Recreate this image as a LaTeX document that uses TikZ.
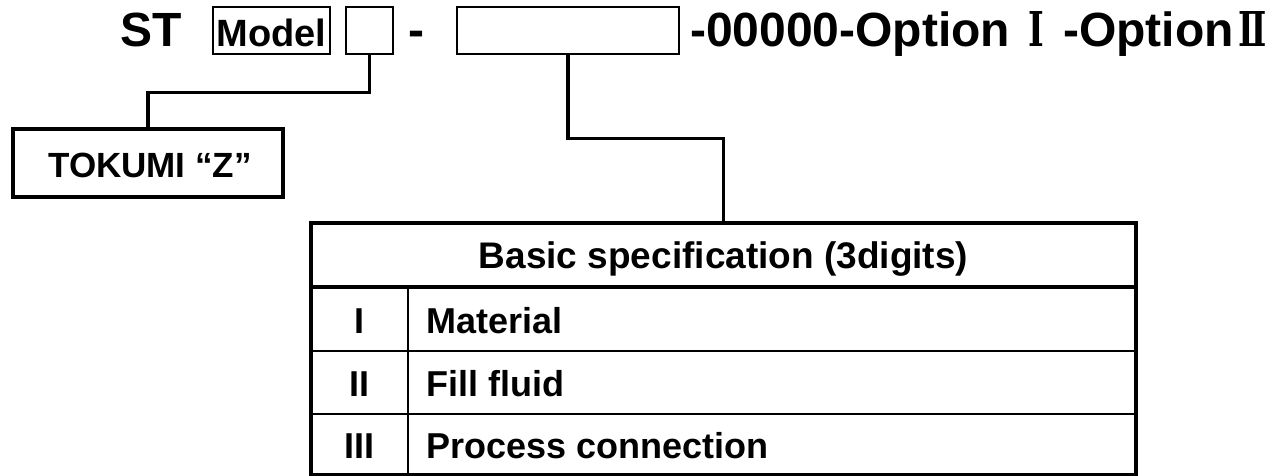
\documentclass[tikz,border=0pt]{standalone}
\usepackage{fontspec}
\setmainfont{Liberation Sans}
\newfontfamily\numfont{DejaVu Serif}
\newcommand\romnum[1]{\scalebox{0.7}[1]{\numfont\bfseries #1}}
\begin{document}
\begin{tikzpicture}[x=1pt,y=-1pt,
  slot/.style={draw, line width=1.3pt, inner sep=0pt, minimum height=47pt},
  link/.style={line width=3.5pt},
  txt/.style={inner sep=0pt, font=\bfseries\fontsize{#1}{#1}\selectfont},
  thick rule/.style={line width=4.5pt},
  thin rule/.style={line width=1.8pt}]
\useasboundingbox (0,0) rectangle (1274,476);

% code line
\node[txt=48, anchor=base west] (st) at (120,47) {ST};
\node[slot, minimum width=117pt] (model) at (271.5,30.5) {};
\node[txt=38, anchor=base] (modeltxt) at (271.5,47) {Model};
\node[slot, minimum width=47pt] (small) at (369.5,30.5) {};
\node[txt=48, anchor=base] (dash) at (416.5,47) {-};
\node[slot, minimum width=222pt] (big) at (568,30.5) {};
\node[txt=48, anchor=base west] (rest) at (690,47)
  {-00000-Option\makebox[53pt]{\romnum{Ⅰ}}-Option\makebox[38pt][r]{\romnum{Ⅱ}\hspace{5pt}}};

% TOKUMI box
\node[draw, line width=3.5pt, minimum width=270pt, minimum height=68pt] (tokumi) at (148,163) {};
\node[txt=35, anchor=base] (tokumitxt) at (150,177) {TOKUMI “Z”};

% specification table
\node[draw, thick rule, minimum width=825pt, minimum height=252pt, inner sep=0pt] (tbl) at (723.5,349) {};
\coordinate (h) at (0,287);
\coordinate (r1) at (0,351);
\coordinate (r2) at (0,414);
\coordinate (col) at (408,0);
\draw[line width=4pt] (tbl.west |- h) -- (tbl.east |- h);
\draw[thin rule] (tbl.west |- r1) -- (tbl.east |- r1);
\draw[thin rule] (tbl.west |- r2) -- (tbl.east |- r2);
\draw[thin rule] (col |- h) -- (col |- tbl.south);

\node[txt=37, anchor=base] (head) at (723.5,268.5) {Basic specification (3digits)};
\node[txt=36, anchor=base] (n1) at (359.5,333) {I};
\node[txt=36, anchor=base] (n2) at (359.5,396) {II};
\node[txt=36, anchor=base] (n3) at (359.5,458) {III};
\node[txt=36, anchor=base west] (t1) at (426,333) {Material};
\node[txt=36, anchor=base west] (t2) at (426,396) {Fill fluid};
\node[txt=36, anchor=base west] (t3) at (426,458) {Process connection};

% connectors
\draw[link] (small.south) -- ++(0,38) -| (tokumi.north);
\draw[link] (big.south) -- ++(0,84) -| (tbl.north);
\end{tikzpicture}
\end{document}
